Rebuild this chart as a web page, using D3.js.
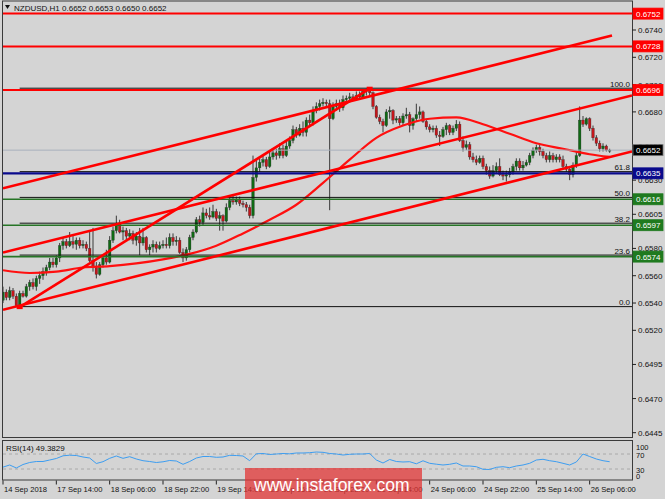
<!DOCTYPE html>
<html><head><meta charset="utf-8">
<script src="https://cdn.jsdelivr.net/npm/d3@7"></script>
<style>
body{margin:0;background:#d4d4d4;}
svg{display:block;}
text{font-family:"Liberation Sans",Arial,sans-serif;}
</style>
</head><body>
<svg id="c" width="665" height="499"></svg>
<script>
// ---------------- DATA ----------------
const symbolTitle = "NZDUSD,H1  0.6652 0.6653 0.6650 0.6652";
const rsiTitle = "RSI(14) 49.3829";
const timeLabels = ["14 Sep 2018","17 Sep 14:00","18 Sep 06:00","18 Sep 22:00","19 Sep 14:00","20 Sep 06:00","20 Sep 22:00","21 Sep 14:00","24 Sep 06:00","24 Sep 22:00","25 Sep 14:00","26 Sep 06:00"];
const timeLabelBars = [0,16,32,48,64,80,96,112,128,144,160,176];
const priceTicks = [0.6740,0.6720,0.6700,0.6680,0.6655,0.6630,0.6605,0.6580,0.6560,0.6540,0.6520,0.6495,0.6470,0.6445];
const rsiTicks = [100,70,30,0];
const rsiLevels = [70,30];

const opens = [0.6542,0.6548,0.6544,0.6549,0.6545,0.6538,0.6547,0.6545,0.6552,0.6555,
0.6552,0.6558,0.6560,0.6563,0.6566,0.6570,0.6568,0.6573,0.6582,0.6585,
0.6582,0.6585,0.6583,0.6586,0.6582,0.6583,0.6580,0.6571,0.6566,0.6561,
0.6568,0.6573,0.6570,0.6586,0.6593,0.6598,0.6592,0.6593,0.6589,0.6591,
0.6586,0.6589,0.6584,0.6588,0.6579,0.6581,0.6583,0.6580,0.6582,0.6583,
0.6582,0.6588,0.6585,0.6586,0.6577,0.6573,0.6579,0.6588,0.6592,0.6601,
0.6599,0.6606,0.6604,0.6603,0.6607,0.6602,0.6604,0.6600,0.6610,0.6615,
0.6614,0.6616,0.6613,0.6612,0.6610,0.6604,0.6632,0.6639,0.6643,0.6645,
0.6640,0.6647,0.6650,0.6648,0.6653,0.6648,0.6655,0.6659,0.6667,0.6663,
0.6668,0.6665,0.6674,0.6672,0.6681,0.6684,0.6686,0.6687,0.6686,0.6675,
0.6684,0.6686,0.6683,0.6689,0.6690,0.6691,0.6689,0.6692,0.6691,0.6695,
0.6696,0.6694,0.6684,0.6676,0.6673,0.6670,0.6680,0.6681,0.6674,0.6675,
0.6672,0.6677,0.6678,0.6670,0.6675,0.6678,0.6680,0.6673,0.6669,0.6667,
0.6668,0.6663,0.6662,0.6667,0.6670,0.6665,0.6668,0.6671,0.6659,0.6654,
0.6656,0.6647,0.6645,0.6643,0.6646,0.6640,0.6637,0.6633,0.6637,0.6640,
0.6634,0.6633,0.6634,0.6636,0.6640,0.6644,0.6639,0.6641,0.6643,0.6648,
0.6652,0.6654,0.6651,0.6648,0.6645,0.6648,0.6645,0.6647,0.6645,0.6640,
0.6638,0.6634,0.6641,0.6648,0.6674,0.6671,0.6675,0.6668,0.6661,0.6657,
0.6653,0.6655,0.6652];
const highs = [0.6552,0.6550,0.6552,0.6551,0.6547,0.6549,0.6549,0.6554,0.6557,0.6558,
0.6560,0.6563,0.6566,0.6568,0.6573,0.6573,0.6575,0.6584,0.6588,0.6587,
0.6592,0.6589,0.6588,0.6588,0.6586,0.6585,0.6592,0.6595,0.6570,0.6570,
0.6575,0.6579,0.6589,0.6596,0.6604,0.6601,0.6596,0.6595,0.6594,0.6593,
0.6592,0.6595,0.6595,0.6589,0.6583,0.6586,0.6585,0.6585,0.6586,0.6588,
0.6591,0.6591,0.6589,0.6588,0.6580,0.6581,0.6590,0.6594,0.6603,0.6604,
0.6610,0.6609,0.6610,0.6612,0.6609,0.6607,0.6605,0.6613,0.6618,0.6619,
0.6618,0.6618,0.6615,0.6614,0.6612,0.6648,0.6645,0.6646,0.6648,0.6647,
0.6651,0.6653,0.6653,0.6657,0.6656,0.6659,0.6662,0.6670,0.6669,0.6671,
0.6673,0.6676,0.6678,0.6684,0.6687,0.6689,0.6690,0.6689,0.6689,0.6687,
0.6689,0.6689,0.6692,0.6692,0.6694,0.6693,0.6695,0.6695,0.6696,0.6697,
0.6697,0.6695,0.6685,0.6678,0.6675,0.6682,0.6684,0.6682,0.6677,0.6677,
0.6679,0.6683,0.6680,0.6676,0.6686,0.6684,0.6681,0.6675,0.6671,0.6670,
0.6670,0.6666,0.6669,0.6672,0.6671,0.6670,0.6674,0.6673,0.6662,0.6659,
0.6658,0.6650,0.6648,0.6648,0.6648,0.6642,0.6640,0.6641,0.6643,0.6646,
0.6637,0.6637,0.6639,0.6642,0.6646,0.6646,0.6644,0.6645,0.6650,0.6654,
0.6656,0.6656,0.6653,0.6650,0.6651,0.6650,0.6649,0.6649,0.6648,0.6642,
0.6640,0.6643,0.6651,0.6684,0.6677,0.6676,0.6676,0.6670,0.6663,0.6659,
0.6657,0.6656,0.6653];
const lows = [0.6540,0.6542,0.6542,0.6543,0.6537,0.6537,0.6544,0.6544,0.6549,0.6550,
0.6549,0.6554,0.6557,0.6560,0.6564,0.6566,0.6566,0.6570,0.6579,0.6580,
0.6581,0.6580,0.6579,0.6580,0.6580,0.6578,0.6570,0.6563,0.6558,0.6560,
0.6566,0.6568,0.6569,0.6584,0.6591,0.6591,0.6586,0.6586,0.6586,0.6583,
0.6582,0.6575,0.6582,0.6577,0.6575,0.6577,0.6577,0.6579,0.6580,0.6580,
0.6580,0.6582,0.6582,0.6576,0.6570,0.6571,0.6577,0.6586,0.6591,0.6596,
0.6597,0.6602,0.6601,0.6602,0.6600,0.6593,0.6593,0.6599,0.6608,0.6612,
0.6612,0.6611,0.6610,0.6607,0.6602,0.6602,0.6629,0.6636,0.6640,0.6638,
0.6639,0.6645,0.6645,0.6646,0.6646,0.6647,0.6653,0.6657,0.6661,0.6662,
0.6662,0.6662,0.6670,0.6670,0.6679,0.6681,0.6684,0.6683,0.6608,0.6674,
0.6681,0.6680,0.6681,0.6686,0.6688,0.6688,0.6689,0.6689,0.6690,0.6692,
0.6692,0.6682,0.6675,0.6671,0.6665,0.6669,0.6675,0.6671,0.6672,0.6670,
0.6670,0.6675,0.6665,0.6667,0.6673,0.6675,0.6672,0.6667,0.6665,0.6665,
0.6661,0.6655,0.6661,0.6663,0.6663,0.6663,0.6666,0.6658,0.6651,0.6652,
0.6645,0.6643,0.6641,0.6642,0.6638,0.6634,0.6631,0.6632,0.6635,0.6633,
0.6630,0.6629,0.6632,0.6634,0.6637,0.6637,0.6637,0.6640,0.6641,0.6646,
0.6650,0.6648,0.6646,0.6643,0.6643,0.6643,0.6643,0.6643,0.6638,0.6636,
0.6630,0.6632,0.6639,0.6647,0.6669,0.6670,0.6666,0.6659,0.6655,0.6651,
0.6651,0.6651,0.6650];
const closes = [0.6548,0.6544,0.6549,0.6545,0.6538,0.6547,0.6545,0.6552,0.6555,0.6552,
0.6558,0.6560,0.6563,0.6566,0.6570,0.6568,0.6573,0.6582,0.6585,0.6582,
0.6585,0.6583,0.6586,0.6582,0.6583,0.6580,0.6571,0.6566,0.6561,0.6568,
0.6573,0.6570,0.6586,0.6593,0.6598,0.6592,0.6593,0.6589,0.6591,0.6586,
0.6589,0.6584,0.6588,0.6579,0.6581,0.6583,0.6580,0.6582,0.6583,0.6582,
0.6588,0.6585,0.6586,0.6577,0.6573,0.6579,0.6588,0.6592,0.6601,0.6599,
0.6606,0.6604,0.6603,0.6607,0.6602,0.6604,0.6600,0.6610,0.6615,0.6614,
0.6616,0.6613,0.6612,0.6610,0.6604,0.6632,0.6639,0.6643,0.6645,0.6640,
0.6647,0.6650,0.6648,0.6653,0.6648,0.6655,0.6659,0.6667,0.6663,0.6668,
0.6665,0.6674,0.6672,0.6681,0.6684,0.6686,0.6687,0.6686,0.6675,0.6684,
0.6686,0.6683,0.6689,0.6690,0.6691,0.6689,0.6692,0.6691,0.6695,0.6696,
0.6694,0.6684,0.6676,0.6673,0.6670,0.6680,0.6681,0.6674,0.6675,0.6672,
0.6677,0.6678,0.6670,0.6675,0.6678,0.6680,0.6673,0.6669,0.6667,0.6668,
0.6663,0.6662,0.6667,0.6670,0.6665,0.6668,0.6671,0.6659,0.6654,0.6656,
0.6647,0.6645,0.6643,0.6646,0.6640,0.6637,0.6633,0.6637,0.6640,0.6634,
0.6633,0.6634,0.6636,0.6640,0.6644,0.6639,0.6641,0.6643,0.6648,0.6652,
0.6654,0.6651,0.6648,0.6645,0.6648,0.6645,0.6647,0.6645,0.6640,0.6638,
0.6634,0.6641,0.6648,0.6674,0.6671,0.6675,0.6668,0.6661,0.6657,0.6653,
0.6655,0.6652,0.6652];

// moving average (red curve), sampled at these bars
const maBars = [0,8,16,24,32,40,48,56,64,72,80,88,96,104,112,120,128,136,144,152,160,168,176,182];
const maValues = [0.6564,0.6562,0.6563,0.6566,0.6567,0.6569,0.6572,0.6576,0.6582,0.6591,0.6601,0.6612,0.6628,0.6645,0.6661,0.6670,0.6675,0.6676,0.6671,0.6664,0.6657,0.6653,0.6649,0.6647];

// RSI(14), one value every second bar
const rsiValues = [35,40.7,32.7,42,47.3,50,50,54,58,65.2,66.8,66,62,59.3,44.7,49.5,58.5,64.7,58.5,62.8,
56.7,52.1,50,47.3,49.2,52.7,51.3,42.5,50,59.3,63.3,63.3,61.2,62,66.5,66,64.7,52.1,70.5,71.3,
68.7,70,71.3,70.5,72.7,72.7,73.5,75.3,74.5,71.3,70,67.3,69.2,70,70,71.3,54,46,55.3,50,
48.7,49.5,43.9,51.9,45.2,42.8,40.7,42.5,46,38,38,36.1,29.2,28.7,34.5,36.1,33.5,38,40.7,45.2,
54,55.9,52.1,49.5,45.2,40.7,48.7,70,63.3,56.7,52.1,49.38];

// horizontal levels
const levelPrices = [0.6752,0.6728,0.6696,0.6635,0.6616,0.6597,0.6574];
const currentPrice = 0.6652;
// fibonacci
const fibLowBar = 5, fibLowPrice = 0.6537, fibHighBar = 110, fibHighPrice = 0.6697;
const fibPercents = [0,23.6,38.2,50,61.8,100];
// trend channel lines: start bar/price, end bar/price
const trendStartBar = [0, 0, 0];
const trendStartPrice = [0.6624, 0.6577, 0.6535];
const trendEndBar = [182.7, 188.7, 188.7];
const trendEndPrice = [0.6736, 0.6692, 0.6651];

// ---------------- DRAWING ----------------
const svg = d3.select('#c');
const L = 3, R = 632, T = 2, MB = 437.5, RT = 441, RB = 480.5;
const FONT = 8;
const x = d3.scaleLinear().domain([0,183]).range([3,613]);
const y = d3.scaleLinear().domain([0.6445,0.6740]).range([432.7,30]);
const yR = d3.scaleLinear().domain([0,100]).range([480.25,442.75]);

svg.append('rect').attr('width',665).attr('height',499).attr('fill','#d4d4d4');
const defs = svg.append('defs');
defs.append('clipPath').attr('id','clipMain').append('rect').attr('x',L).attr('y',T).attr('width',R-L).attr('height',MB-T);
defs.append('clipPath').attr('id','clipRsi').append('rect').attr('x',L).attr('y',RT).attr('width',R-L).attr('height',RB-RT);

// frames
svg.append('rect').attr('x',L-0.5).attr('y',T-1).attr('width',R-L+1).attr('height',MB-T+1).attr('fill','none').attr('stroke','#3a3a3a');
svg.append('rect').attr('x',L-0.5).attr('y',RT-0.5).attr('width',R-L+1).attr('height',RB-RT).attr('fill','none').attr('stroke','#3a3a3a');

const main = svg.append('g').attr('clip-path','url(#clipMain)');

// candles
const bars = d3.range(closes.length);
main.append('g').selectAll('line').data(bars).join('line')
  .attr('x1',i=>x(i)).attr('x2',i=>x(i))
  .attr('y1',i=>y(highs[i])).attr('y2',i=>y(lows[i]))
  .attr('stroke','#3a3a3a').attr('stroke-width',1);
main.append('g').selectAll('rect').data(bars).join('rect')
  .attr('x',i=>x(i)-1.3).attr('width',2.6)
  .attr('y',i=>y(Math.max(opens[i],closes[i])))
  .attr('height',i=>Math.max(1,Math.abs(y(opens[i])-y(closes[i]))))
  .attr('fill',i=>closes[i]>=opens[i]?'#0f6a14':'#c4161b')
  .attr('stroke','#2a2a2a').attr('stroke-width',0.3);

// moving average
main.append('path').datum(maBars.map((b,k)=>[b,maValues[k]]))
  .attr('d',d3.line().x(d=>x(d[0])).y(d=>y(d[1])).curve(d3.curveMonotoneX))
  .attr('fill','none').attr('stroke','#ff1010').attr('stroke-width',2.2);

// current price line
main.append('line').attr('x1',L).attr('x2',R).attr('y1',y(currentPrice)).attr('y2',y(currentPrice))
  .attr('stroke','#a8b0bc').attr('stroke-width',1);

// fibonacci levels
const fibY = p => y(fibLowPrice + (fibHighPrice-fibLowPrice)*p/100);
main.append('g').selectAll('line').data(fibPercents).join('line')
  .attr('x1',x(fibLowBar)).attr('x2',R).attr('y1',p=>fibY(p)-0.5).attr('y2',p=>fibY(p)-0.5)
  .attr('stroke','#111').attr('stroke-width',1);

// horizontal levels
const levelColors = ['#ff0000','#ff0000','#ff0000','#0a0a8c','#267526','#267526','#267526'];
const levelWidths = [2,2,2,2.2,1.6,1.6,1.6];
main.append('g').selectAll('line').data(levelPrices).join('line')
  .attr('x1',L).attr('x2',R).attr('y1',p=>y(p)).attr('y2',p=>y(p))
  .attr('stroke',(p,k)=>levelColors[k]).attr('stroke-width',(p,k)=>levelWidths[k]);

// fib labels
main.append('g').selectAll('text').data(fibPercents).join('text')
  .attr('x',630).attr('y',p=>fibY(p)-2).attr('text-anchor','end')
  .attr('font-size',FONT).attr('fill','#111').text(p=>p.toFixed(1));

// trend lines
main.append('g').selectAll('line').data(trendStartBar).join('line')
  .attr('x1',(d,k)=>x(trendStartBar[k])).attr('y1',(d,k)=>y(trendStartPrice[k]))
  .attr('x2',(d,k)=>x(trendEndBar[k])).attr('y2',(d,k)=>y(trendEndPrice[k]))
  .attr('stroke','#ff0000').attr('stroke-width',2.6);
// fibo diagonal
main.append('line').attr('x1',x(fibLowBar)).attr('y1',y(fibLowPrice)).attr('x2',x(fibHighBar)).attr('y2',y(fibHighPrice))
  .attr('stroke','#ff0000').attr('stroke-width',2.6);
[[fibLowBar,fibLowPrice],[fibHighBar,fibHighPrice]].forEach(d=>{
  main.append('rect').attr('x',x(d[0])-3).attr('y',y(d[1])-2).attr('width',6).attr('height',4).attr('fill','#ff0000');
});

// title
svg.append('path').attr('d','M5,5 L10,5 L7.5,9 Z').attr('fill','#111');
svg.append('text').attr('x',14).attr('y',11).attr('font-size',FONT).attr('fill','#111').text(symbolTitle);

// price axis
const ax = svg.append('g');
ax.selectAll('line').data(priceTicks).join('line')
  .attr('x1',R).attr('x2',R+4).attr('y1',p=>y(p)).attr('y2',p=>y(p)).attr('stroke','#222');
ax.selectAll('text').data(priceTicks).join('text')
  .attr('x',R+6).attr('y',p=>y(p)+3).attr('font-size',FONT).attr('fill','#111').text(p=>p.toFixed(4));

// price label boxes
const boxColors = ['#ff0000','#ff0000','#ff0000','#0a0a8c','#1f7a1f','#1f7a1f','#1f7a1f'];
const boxPrices = levelPrices.concat([currentPrice]);
const boxFill = boxColors.concat(['#000000']);
const bx = svg.append('g');
bx.selectAll('rect').data(boxPrices).join('rect')
  .attr('x',R+1).attr('y',p=>y(p)-5.5).attr('width',30).attr('height',11)
  .attr('fill',(p,k)=>boxFill[k]).attr('stroke',(p,k)=>k===7?'#777':boxFill[k]).attr('stroke-width',0.8);
bx.selectAll('text').data(boxPrices).join('text')
  .attr('x',R+4).attr('y',p=>y(p)+3).attr('font-size',FONT).attr('fill','#fff').text(p=>p.toFixed(4));

// RSI panel
const rsi = svg.append('g').attr('clip-path','url(#clipRsi)');
rsi.selectAll('line').data(rsiLevels).join('line')
  .attr('x1',L).attr('x2',R).attr('y1',v=>yR(v)).attr('y2',v=>yR(v))
  .attr('stroke','#a0a0a0').attr('stroke-dasharray','3,3').attr('stroke-width',0.8);
rsi.append('path').datum(rsiValues)
  .attr('d',d3.line().x((v,k)=>x(k*2)).y(v=>yR(v)))
  .attr('fill','none').attr('stroke','#3d9df0').attr('stroke-width',1);
svg.append('text').attr('x',6).attr('y',451).attr('font-size',FONT).attr('fill','#111').text(rsiTitle);
svg.append('g').selectAll('text').data(rsiTicks).join('text')
  .attr('x',R+4).attr('y',v=>Math.min(478.5,Math.max(450,yR(v)+4)))
  .attr('font-size',FONT-0.5).attr('fill','#111').text(v=>v);

// time axis
const tx = svg.append('g');
tx.selectAll('line').data(timeLabelBars).join('line')
  .attr('x1',b=>x(b)).attr('x2',b=>x(b)).attr('y1',RB).attr('y2',RB+4).attr('stroke','#222');
tx.selectAll('text').data(timeLabelBars).join('text')
  .attr('x',b=>x(b)+1).attr('y',492).attr('font-size',7.6).attr('fill','#111')
  .text((b,k)=>timeLabels[k]);

// watermark
svg.append('rect').attr('x',245).attr('y',468).attr('width',177).attr('height',31).attr('fill','rgba(226,52,52,0.74)');
svg.append('text').attr('x',254).attr('y',491).attr('font-size',17.5).attr('fill','#fff').text('www.instaforex.com');
</script>
</body></html>
